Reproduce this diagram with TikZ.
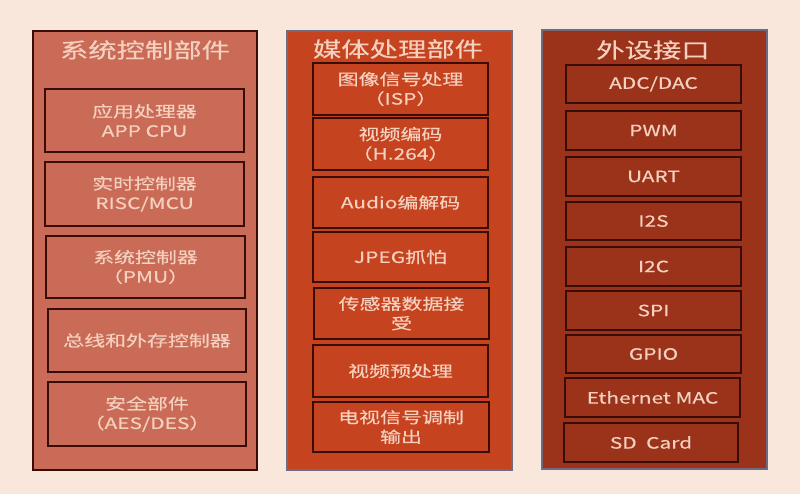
\documentclass[tikz,border=0pt]{standalone}
\usepackage{fontspec}
\setmainfont{Noto Sans CJK SC}[FakeStretch=1.35,FakeBold=0.4]
\definecolor{bgc}{HTML}{F9E7DC}
\definecolor{pa}{HTML}{C96B57}
\definecolor{pb}{HTML}{C5431F}
\definecolor{pc}{HTML}{9B321A}
\definecolor{txt}{HTML}{F5D0BE}
\definecolor{dk}{HTML}{3A0C06}
\definecolor{bl}{HTML}{6E6A85}
\tikzset{
  panel/.style={draw, line width=1.5pt, minimum width=225pt, minimum height=439pt, inner sep=0pt},
  ttl/.style={text=txt, font=\fontsize{21}{24}\selectfont},
  ibox/.style={draw=dk, line width=2pt, text=txt, align=center, inner sep=0pt,
    font=\fontsize{15.5}{19.5}\selectfont},
}
\begin{document}
\begin{tikzpicture}[x=1pt,y=-1pt]
\useasboundingbox (0,0) rectangle (800,494);
\fill[bgc] (0,0) rectangle (800,494);
% panel 1
\node[panel, draw=dk, fill=pa, minimum width=224pt] (p1) at (145,250.5) {};
\node[ttl] (t1) at (145,50) {系统控制部件};
\node[ibox, fill=pa, minimum width=199pt, minimum height=63pt] (a1) at (144.5,120.5) {应用处理器\\APP CPU};
\node[ibox, fill=pa, minimum width=199pt, minimum height=64pt] (a2) at (144.5,194) {实时控制器\\RISC/MCU};
\node[ibox, fill=pa, minimum width=199pt, minimum height=62pt] (a3) at (145.5,267) {系统控制器\\（PMU）};
\node[ibox, fill=pa, minimum width=198pt, minimum height=63pt] (a4) at (147,340.5) {总线和外存控制器};
\node[ibox, fill=pa, minimum width=198pt, minimum height=64pt] (a5) at (147,414) {安全部件\\（AES/DES）};
% panel 2
\node[panel, draw=bl, fill=pb] (p2) at (399.5,250.5) {};
\node[ttl] (t2) at (398,49) {媒体处理部件};
\node[ibox, fill=pb, minimum width=175pt, minimum height=52pt] (b1) at (400.5,89) {图像信号处理\\（ISP）};
\node[ibox, fill=pb, minimum width=175pt, minimum height=52pt] (b2) at (400.5,144) {视频编码\\（H.264）};
\node[ibox, fill=pb, minimum width=175pt, minimum height=51pt] (b3) at (400.5,202.5) {Audio编解码};
\node[ibox, fill=pb, minimum width=175pt, minimum height=50pt] (b4) at (400.5,257) {JPEG抓怕};
\node[ibox, fill=pb, minimum width=175pt, minimum height=51pt] (b5) at (401.5,313.5) {传感器数据接\\受};
\node[ibox, fill=pb, minimum width=175pt, minimum height=52pt] (b6) at (400.5,371) {视频预处理};
\node[ibox, fill=pb, minimum width=176pt, minimum height=50pt] (b7) at (401,427) {电视信号调制\\输出};
% panel 3
\node[panel, draw=bl, fill=pc] (p3) at (654.5,249.5) {};
\node[ttl] (t3) at (653,50) {外设接口};
\node[ibox, fill=pc, minimum width=175pt, minimum height=38pt] (c1) at (653.5,84) {ADC/DAC};
\node[ibox, fill=pc, minimum width=175pt, minimum height=39pt] (c2) at (653.5,130.5) {PWM};
\node[ibox, fill=pc, minimum width=175pt, minimum height=39pt] (c3) at (653.5,176.5) {UART};
\node[ibox, fill=pc, minimum width=175pt, minimum height=38pt] (c4) at (653.5,221) {I2S};
\node[ibox, fill=pc, minimum width=175pt, minimum height=39pt] (c5) at (653.5,266.5) {I2C};
\node[ibox, fill=pc, minimum width=175pt, minimum height=39pt] (c6) at (653.5,310.5) {SPI};
\node[ibox, fill=pc, minimum width=175pt, minimum height=38pt] (c7) at (653.5,354) {GPIO};
\node[ibox, fill=pc, minimum width=175pt, minimum height=39pt] (c8) at (652.5,397.5) {Ethernet MAC};
\node[ibox, fill=pc, minimum width=174pt, minimum height=39pt] (c9) at (651,442.5) {SD\ \ Card};
\end{tikzpicture}
\end{document}
